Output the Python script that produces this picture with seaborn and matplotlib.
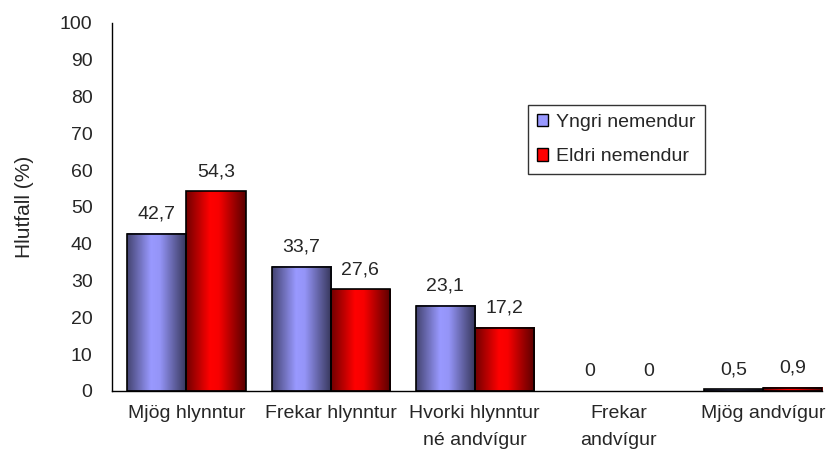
import numpy as np
import pandas as pd
import matplotlib
matplotlib.use('Agg')
import matplotlib.pyplot as plt
import seaborn as sns
from matplotlib.patches import Patch
from matplotlib.colors import to_rgb

# Data
categories = ['Mjög hlynntur', 'Frekar hlynntur', 'Hvorki hlynntur\nné andvígur',
              'Frekar\nandvígur', 'Mjög andvígur']
groups = ['Yngri nemendur', 'Eldri nemendur']
yngri = [42.7, 33.7, 23.1, 0, 0.5]
eldri = [54.3, 27.6, 17.2, 0, 0.9]
colors = ['#9999FF', '#FF0000']

df = pd.DataFrame({
    'flokkur': categories * 2,
    'hlutfall': yngri + eldri,
    'hopur': [groups[0]] * len(categories) + [groups[1]] * len(categories),
})

sns.set_style('white')
plt.rcParams['font.family'] = ['Liberation Sans', 'DejaVu Sans']
fs = 14

fig = plt.figure(figsize=(8.32, 4.54), dpi=100)
ax = fig.add_axes([0.1346, 0.1388, 0.8534, 0.8106])

sns.barplot(data=df, x='flokkur', y='hlutfall', hue='hopur', palette=colors,
            saturation=1, width=0.82, edgecolor='black', linewidth=1.2,
            legend=False, ax=ax)

# shaded (cylinder-like) look on each bar
xs = np.linspace(0, 1, 64)
shade = np.interp(xs, [0, 0.4, 0.55, 1], [0.45, 1.0, 0.97, 0.35])
for p in ax.patches:
    h = p.get_height()
    if h <= 0:
        p.set_visible(False)
        continue
    base = np.array(to_rgb(p.get_facecolor()))
    grad = (shade[:, None] * base[None, :])[None, :, :]
    x0, w = p.get_x(), p.get_width()
    ax.imshow(grad, extent=(x0, x0 + w, 0, h), aspect='auto', zorder=1.5,
              interpolation='bilinear')
    p.set_facecolor('none')
    p.set_zorder(2)

# value labels
for cont, vals in zip(ax.containers, [yngri, eldri]):
    labels = [f'{v:g}'.replace('.', ',') for v in vals]
    ax.bar_label(cont, labels=labels, padding=8, fontsize=fs)

ax.set_xlim(-0.517, 4.41)
ax.set_ylim(0, 100)
ax.set_yticks(np.arange(0, 101, 10))
ax.set_xlabel('')
ax.set_ylabel('Hlutfall (%)', fontsize=15, labelpad=19)

ax.set_xticks(np.arange(-0.5, 4.0, 1.0), minor=True)
ax.tick_params(axis='x', which='major', length=0, pad=10, labelsize=fs)
ax.tick_params(axis='x', which='minor', length=6, width=1, color='black', direction='out')
ax.tick_params(axis='y', length=5, width=1, color='black', direction='out', labelsize=fs, pad=9)
plt.setp(ax.get_xticklabels(), linespacing=1.75)

sns.despine(ax=ax)
for s in ['left', 'bottom']:
    ax.spines[s].set_color('black')
    ax.spines[s].set_linewidth(1)

handles = [Patch(facecolor=c, edgecolor='black', linewidth=1) for c in colors]
leg = ax.legend(handles, groups, loc='upper left', bbox_to_anchor=(0.586, 0.777),
                frameon=True, fancybox=False, edgecolor='black', fontsize=fs,
                handlelength=0.6, handleheight=0.6, handletextpad=0.4,
                labelspacing=0.9, borderpad=0.45, borderaxespad=0)
leg.get_frame().set_linewidth(1)

fig.savefig('out.png', dpi=100)
